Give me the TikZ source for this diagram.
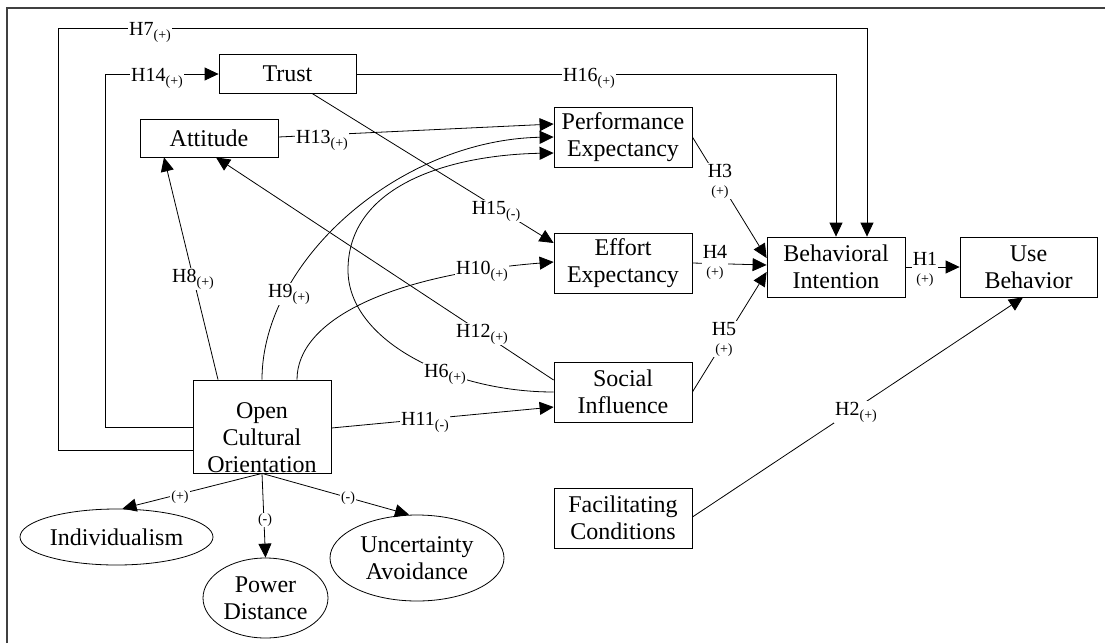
\documentclass[tikz,border=0pt]{standalone}
\usepackage{fontspec}
\setmainfont{Liberation Serif}
\usetikzlibrary{arrows.meta,shapes.geometric}
\newcommand{\hlab}[2]{H#1\raisebox{-4pt}{\fontsize{14}{16}\selectfont(#2)}}
\begin{document}
\begin{tikzpicture}[x=1pt,y=-1pt,
  box/.style={draw, line width=0.8pt, minimum width=138pt, minimum height=60pt, inner sep=0pt, align=center, font=\fontsize{24}{27}\selectfont},
  ell/.style={draw, ellipse, line width=0.8pt, inner sep=0pt, align=center, font=\fontsize{24}{27}\selectfont},
  conn/.style={line width=0.8pt, -{Triangle[length=14pt,width=13pt]}},
  lbl/.style={fill=white, inner sep=1pt, anchor=base, yshift=-7pt, font=\fontsize{20}{22}\selectfont},
  lbltwo/.style={fill=white, inner sep=1pt, align=center, font=\fontsize{20}{22}\selectfont},
  sgn/.style={fill=white, inner sep=1pt, font=\fontsize{14}{16}\selectfont}]
\useasboundingbox (0,0) rectangle (1105,643);
% frame
\draw[line width=1.2pt, black!75] (7,643) -- (7,8) -- (1105,8);
% nodes
\node[box, minimum width=137pt, minimum height=39pt] (trust) at (287.5,73.5) {Trust};
\node[box, minimum height=38pt] (att) at (209,138) {Attitude};
\node[box] (perf) at (623,137) {Performance\\Expectancy};
\node[box] (eff) at (623,263) {Effort\\Expectancy};
\node[box] (soc) at (623,392) {Social\\Influence};
\node[box] (fac) at (623,518) {Facilitating\\Conditions};
\node[box] (bi) at (836,267) {Behavioral\\Intention};
\node[box, minimum width=137pt] (use) at (1028.5,267) {Use\\Behavior};
\node[box, minimum height=93pt] (oco) at (262,426.5) {};
\node[align=center, inner sep=0pt, font=\fontsize{24}{27}\selectfont] (ocot) at (262,437.5) {Open\\Cultural\\Orientation};
\node[ell, minimum width=193pt, minimum height=56pt] (ind) at (116.5,537) {Individualism};
\node[ell, minimum width=125pt, minimum height=80pt] (pd) at (265.5,598) {Power\\Distance};
\node[ell, minimum width=174pt, minimum height=86pt] (ua) at (417,558) {Uncertainty\\Avoidance};
% connectors
\draw[conn] ([yshift=-23.5pt]oco.west) -| (58,28) -| ([xshift=31pt]bi.north);
\draw[conn] ([yshift=-0.5pt]oco.west) -| (105,74) -- ([yshift=-0.5pt]trust.west);
\draw[conn] ([yshift=-0.5pt]trust.east) -| (bi.north);
\draw[conn] ([yshift=1pt]att.east) -- ([yshift=13pt]perf.west);
\draw[conn] (oco.north) .. controls (262,260) and (400,140) .. (perf.west);
\draw[conn] (soc.west) .. controls (450,392) and (348,340) .. (348,270) .. controls (348,185) and (450,155) .. ([yshift=-16pt]perf.west);
\draw[conn] ([xshift=35pt]oco.north) .. controls (297,320) and (390,275) .. ([yshift=1pt]eff.west);
\draw[conn] ([xshift=24.5pt]trust.south) -- ([yshift=20pt]eff.west);
\draw[conn] ([yshift=12pt]soc.west) -- ([xshift=7pt]att.south);
\draw[conn] ([xshift=-44pt]oco.north) -- ([xshift=-45pt]att.south);
\draw[conn] ([yshift=-1.5pt]oco.east) -- ([yshift=-15pt]soc.west);
\draw[conn] (perf.east) -- ([yshift=9pt]bi.west);
\draw[conn] (eff.east) -- ([yshift=2pt]bi.west);
\draw[conn] (soc.east) -- ([yshift=-5pt]bi.west);
\draw[conn] (bi.east) -- (use.west);
\draw[conn] ([yshift=1pt]fac.east) -- ([xshift=-5.5pt]use.south);
\draw[conn] (oco.south) -- ([xshift=6pt]ind.north);
\draw[conn] (oco.south) -- (pd.north);
\draw[conn] (oco.south) -- ([xshift=-8pt]ua.north);
% labels
\node[lbl] (l7) at (150,28) {\hlab{7}{+}};
\node[lbl] (l14) at (157,74) {\hlab{14}{+}};
\node[lbl] (l16) at (589,74) {\hlab{16}{+}};
\node[lbl] (l13) at (322,136) {\hlab{13}{+}};
\node[lbl] (l8) at (193,275) {\hlab{8}{+}};
\node[lbl] (l9) at (289,290) {\hlab{9}{+}};
\node[lbl] (l10) at (482,267) {\hlab{10}{+}};
\node[lbl] (l15) at (496,207) {\hlab{15}{-}};
\node[lbl] (l12) at (482,330) {\hlab{12}{+}};
\node[lbl] (l6) at (445,370) {\hlab{6}{+}};
\node[lbl] (l11) at (425,418) {\hlab{11}{-}};
\node[lbl] (l2) at (856,408) {\hlab{2}{+}};
\node[lbltwo] (l3) at (720,181) {H3\\[-4pt]{\fontsize{14}{16}\selectfont(+)}};
\node[lbltwo] (l4) at (715,262) {H4\\[-4pt]{\fontsize{14}{16}\selectfont(+)}};
\node[lbltwo] (l5) at (724,339) {H5\\[-4pt]{\fontsize{14}{16}\selectfont(+)}};
\node[lbltwo] (l1) at (925,269) {H1\\[-4pt]{\fontsize{14}{16}\selectfont(+)}};
\node[sgn] (s1) at (180,497) {(+)};
\node[sgn] (s2) at (265,520) {(-)};
\node[sgn] (s3) at (348,498) {(-)};
\end{tikzpicture}
\end{document}
